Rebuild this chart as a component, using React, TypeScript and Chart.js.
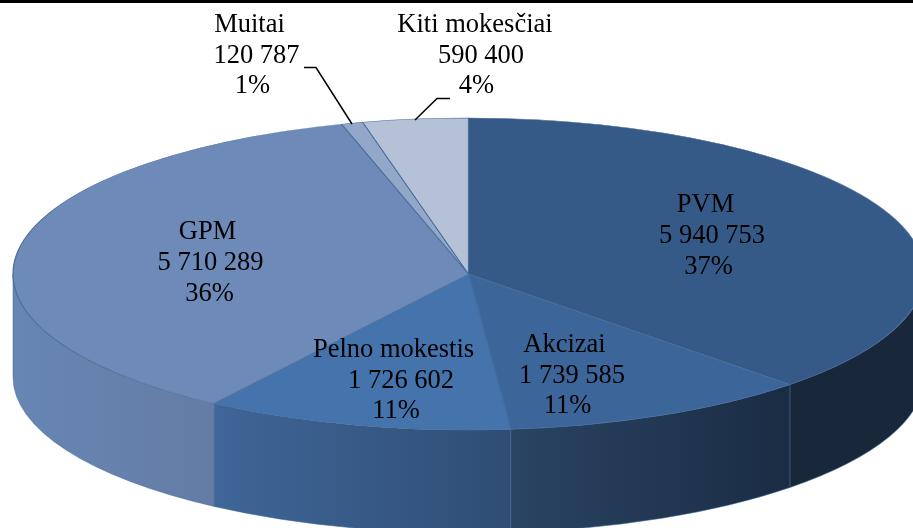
import React, { useEffect, useRef } from "react";
import { Chart, registerables } from "chart.js";

Chart.register(...registerables);

const categories = ["PVM", "Akcizai", "Pelno mokestis", "GPM", "Muitai", "Kiti mokesčiai"];
const amounts = [5940753, 1739585, 1726602, 5710289, 120787, 590400];
const percents = [37, 11, 11, 36, 1, 4];
const topColors = ["#355a87", "#3c6699", "#4573ab", "#6d8ab8", "#93a7c8", "#b4c1d6"];
const sideStops = [
  ["#19273a", "#19273a"],
  ["#2a4463", "#1a2c44"],
  ["#3f6698", "#2f4d74"],
  ["#6786b3", "#647ca5"],
  ["#6786b3", "#6786b3"],
  ["#6786b3", "#6786b3"],
];

const W = 913;
const H = 528;
const CX = 468.5;
const CY = 274;
const RX = 455.5;
const RY = 156;
const DEPTH = 103;
const FONT = '26.5px "Liberation Serif"';
// [x of name, x of amount, x of percent, baseline of name, line step]
const labelAnchors = [
  [705.5, 712, 708.5, 212, 31],
  [564.5, 572, 567.5, 352, 30.5],
  [393.5, 401, 396, 357, 30.5],
  [207.5, 210.5, 209.5, 239, 31],
  [249.5, 256.5, 252.5, 32, 30.5],
  [475, 481, 476.5, 32, 30.5],
];
const leaders = [
  null,
  null,
  null,
  null,
  [[304, 67.5], [316, 67.5], [352, 124]],
  [[450, 98.5], [437, 98.5], [415, 120]],
];

const fmt = (n: number) => String(n).replace(/\B(?=(\d{3})+$)/g, " ");

const pie3d = {
  id: "pie3d",
  beforeDatasetDraw(chart: any) {
    const ctx = chart.ctx;
    const arcs = chart.getDatasetMeta(0).data;
    ctx.save();
    arcs.forEach((arc: any, i: number) => {
      const a = Math.max(arc.startAngle, 0);
      const b = Math.min(arc.endAngle, Math.PI);
      if (b <= a) return;
      const x0 = CX + RX * Math.cos(b);
      const x1 = CX + RX * Math.cos(a);
      const g = ctx.createLinearGradient(x0, 0, x1, 0);
      g.addColorStop(0, sideStops[i][0]);
      g.addColorStop(1, sideStops[i][1]);
      ctx.beginPath();
      ctx.ellipse(CX, CY, RX, RY, 0, a, b);
      ctx.ellipse(CX, CY + DEPTH, RX, RY, 0, b, a, true);
      ctx.closePath();
      ctx.fillStyle = g;
      ctx.fill();
      ctx.lineWidth = 1;
      ctx.strokeStyle = i < 3 ? "rgba(62,100,150,0.55)" : "rgba(70,105,155,0.5)";
      ctx.stroke();
    });
    ctx.restore();
    const R = arcs[0].outerRadius;
    ctx.save();
    ctx.translate(CX, CY);
    ctx.scale(RX / R, RY / R);
    ctx.translate(-arcs[0].x, -arcs[0].y);
  },
  afterDatasetDraw(chart: any) {
    chart.ctx.restore();
  },
  afterDatasetsDraw(chart: any) {
    const ctx = chart.ctx;
    ctx.save();
    ctx.fillStyle = "#000";
    ctx.fillRect(0, 0, W, 3);
    ctx.strokeStyle = "#000";
    ctx.lineWidth = 1.5;
    leaders.forEach((pts) => {
      if (!pts) return;
      ctx.beginPath();
      pts.forEach((p, k) => (k ? ctx.lineTo(p[0], p[1]) : ctx.moveTo(p[0], p[1])));
      ctx.stroke();
    });
    ctx.font = FONT;
    ctx.textAlign = "center";
    ctx.textBaseline = "alphabetic";
    ctx.fillStyle = "#000";
    categories.forEach((name, i) => {
      const [x0, x1, x2, y, step] = labelAnchors[i];
      ctx.fillText(name, x0, y);
      ctx.fillText(fmt(amounts[i]), x1, y + step);
      ctx.fillText(percents[i] + "%", x2, y + 2 * step);
    });
    ctx.restore();
  },
};

export default function App() {
  const ref = useRef<HTMLCanvasElement>(null);
  useEffect(() => {
    const chart = new Chart(ref.current as HTMLCanvasElement, {
      type: "pie",
      data: {
        labels: categories,
        datasets: [
          {
            data: amounts,
            backgroundColor: topColors,
            borderColor: "#4a6c9c",
            borderWidth: 0.7,
          },
        ],
      },
      options: {
        responsive: false,
        animation: false,
        events: [],
        layout: { padding: 0 },
        plugins: { legend: { display: false }, tooltip: { enabled: false } },
      },
      plugins: [pie3d],
    } as any);
    return () => chart.destroy();
  }, []);
  return (
    <div style={{ position: "absolute", left: 0, top: 0, width: W, height: H, background: "#fff", overflow: "hidden" }}>
      <canvas ref={ref} width={W} height={H} style={{ display: "block", width: W, height: H }} />
    </div>
  );
}
